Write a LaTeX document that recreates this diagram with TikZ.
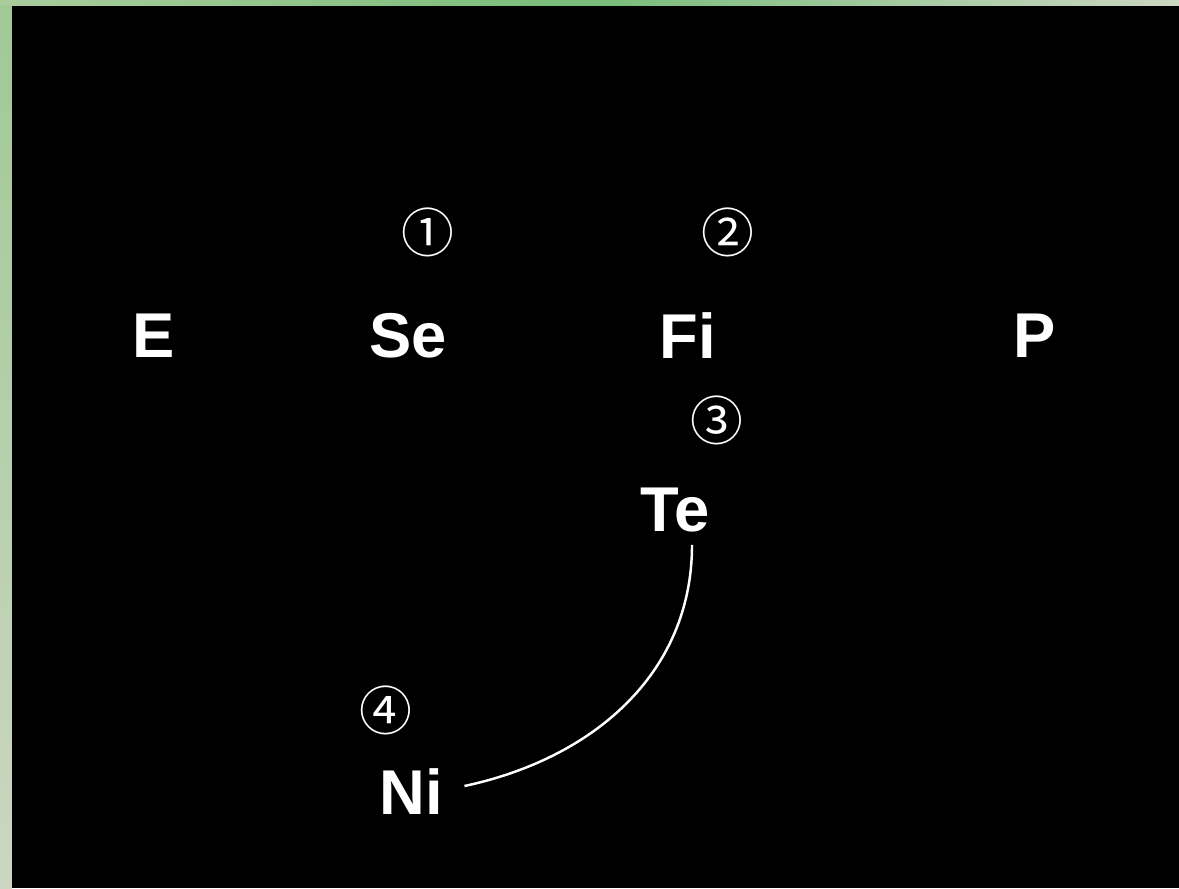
\documentclass[tikz,border=0pt]{standalone}
\usepackage{fontspec}
\setmainfont{Liberation Sans}
\newfontfamily\circfont{Noto Sans CJK JP}
\definecolor{frame_green}{RGB}{120, 188, 122}
\definecolor{frame_light}{RGB}{170, 204, 156}
\definecolor{frame_pale}{RGB}{204, 214, 194}
\tikzstyle{el}=[text=white,font=\fontsize{18}{20}\selectfont\bfseries,inner sep=6pt]
\tikzstyle{num}=[text=white,font=\circfont\fontsize{15}{17}\selectfont,inner sep=2pt]

\begin{document}
\begin{tikzpicture}[x=0.01cm, y=-0.01cm]
    \useasboundingbox (0, 0) rectangle (1179, 888);
    \shade [left color=frame_light, right color=frame_pale, middle color=frame_green] (0, 0) rectangle (1179, 6);
    \shade [top color=frame_light!80!frame_green, bottom color=frame_pale] (0, 6) rectangle (12, 888);
    \fill [black] (12, 6) rectangle (1179, 888);
    \node [style=el] (e) at (154, 336) {E};
    \node [style=el] (se) at (408, 336) {Se};
    \node [style=el] (fi) at (688, 336) {Fi};
    \node [style=el] (p) at (1035, 336) {P};
    \node [style=el] (te) at (675, 510) {Te};
    \node [style=el] (ni) at (411, 792) {Ni};
    \node [style=num] (n1) at (428, 232) {①};
    \node [style=num] (n2) at (728, 232) {②};
    \node [style=num] (n3) at (717, 420) {③};
    \node [style=num] (n4) at (386, 710) {④};
    \draw [white, line width=0.7pt] ([xshift=1.7mm, yshift=0.9mm]te.south) to [out=-90, in=12] ([yshift=0.6mm]ni.east);
\end{tikzpicture}
\end{document}
